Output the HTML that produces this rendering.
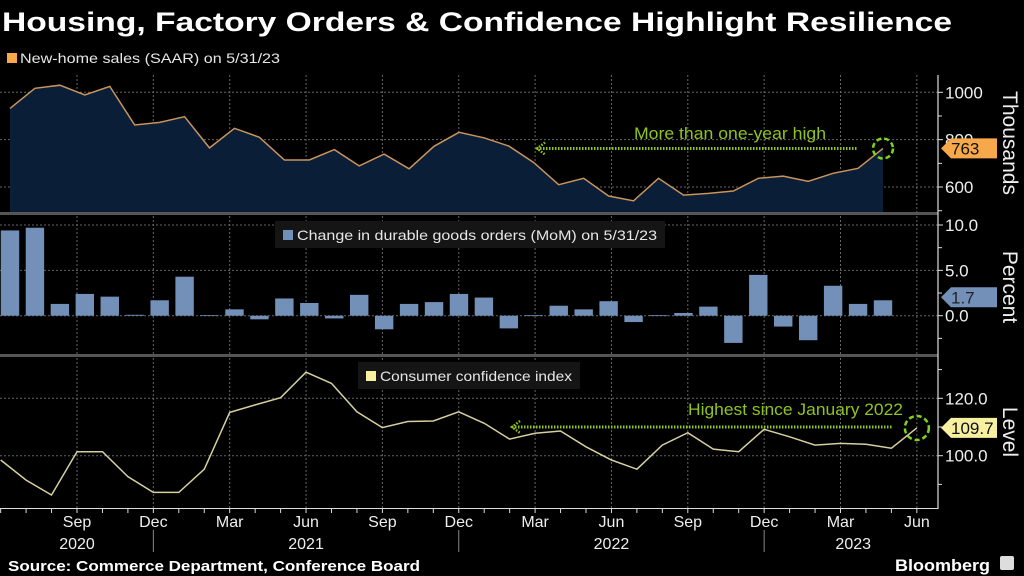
<!DOCTYPE html>
<html><head><meta charset="utf-8"><style>
html,body{margin:0;padding:0;background:#000;width:1024px;height:576px;overflow:hidden}
svg{display:block;font-family:"Liberation Sans","DejaVu Sans",sans-serif}
</style></head><body>
<svg id="c" width="1024" height="576" viewBox="0 0 1024 576">
<rect width="1024" height="576" fill="#000"/>
<text x="2" y="31" fill="#fff" font-size="27" font-weight="bold" textLength="950" lengthAdjust="spacingAndGlyphs">Housing, Factory Orders &amp; Confidence Highlight Resilience</text>
<rect x="7" y="53" width="10" height="10" fill="#f7a84a"/>
<text x="20" y="63" fill="#e6e6e6" font-size="14" textLength="260" lengthAdjust="spacingAndGlyphs">New-home sales (SAAR) on 5/31/23</text>
<g id="grid"></g>
<g id="marks"></g>
<g id="axes"></g>
<text x="8" y="571" fill="#fff" font-size="15" font-weight="bold" textLength="412" lengthAdjust="spacingAndGlyphs">Source: Commerce Department, Conference Board</text>
<text x="895" y="571" fill="#fff" font-size="17" font-weight="bold" textLength="95" lengthAdjust="spacingAndGlyphs">Bloomberg</text>
<rect x="1000" y="556" width="14" height="14" rx="2" fill="#ddd"/>
</svg>
<script>
const salesValues=[932,1017,1030,989,1025,862,873,897,765,848,810,714,714,758,689,739,677,772,831,808,773,703,610,637,562,542,637,566,573,583,637,646,624,658,679,763];
const durableValues=[9.4,9.7,1.3,2.4,2.1,0.1,1.7,4.3,0.05,0.7,-0.4,1.9,1.4,-0.3,2.3,-1.5,1.3,1.5,2.4,2.0,-1.4,0.05,1.1,0.7,1.6,-0.7,0.05,0.3,1.0,-3.0,4.5,-1.2,-2.7,3.3,1.3,1.7];
const cciValues=[98.5,91.5,86.3,101.4,101.4,92.7,87.2,87.2,95.3,115.1,117.7,120.2,129.1,125.2,115.3,109.8,111.9,112.1,115.3,111.3,105.8,107.8,108.6,103.1,98.5,95.3,103.7,108.0,102.3,101.4,109.2,106.6,103.7,104.3,104.0,102.6,109.7];
const monthLabels=["Sep","Dec","Mar","Jun","Sep","Dec","Mar","Jun","Sep","Dec","Mar","Jun"];
const yearLabels=["2020","2021","2022","2023"];
const salesTicks=[1000,800,600];
const durableTicks=[10.0,5.0,0.0];
const cciTicks=[120.0,100.0];

const NS="http://www.w3.org/2000/svg";
function mk(tag,attrs,parent,txt){const e=document.createElementNS(NS,tag);for(const k in attrs)e.setAttribute(k,attrs[k]);if(txt!==undefined)e.textContent=txt;parent.appendChild(e);return e;}
const G=document.getElementById('grid'),M=document.getElementById('marks'),A=document.getElementById('axes');
const xMonth=i=>0.65+25.45*i;
const xSales=k=>10+(873/(salesValues.length-1))*k;
const ySales=v=>92.3+(1000-v)*0.2368;
const yDur=v=>315.7-v*9.07;
const yCci=v=>455.7-(v-100)*2.87;
const PR=938;
const panels=[[75,213],[216,355],[358,508]];
for(let q=0;q<12;q++){const x=xMonth(3+3*q);
 for(const p of panels){const l=mk('line',{x1:x,x2:x,y1:p[0],y2:p[1],stroke:'#666','stroke-width':1,'stroke-dasharray':'2,2'},G);
 }}
function hgrid(y,name){const l=mk('line',{x1:0,x2:PR,y1:y,y2:y,stroke:'#666','stroke-width':1,'stroke-dasharray':'2,2'},G);
 }
function tickLabel(y,t,name){const tk=mk('line',{x1:PR,x2:PR+5,y1:y,y2:y,stroke:'#ddd'},A);
 
 const e=mk('text',{x:945,y:y+6,fill:'#eee','font-size':17},A,t);
 }
salesTicks.forEach(v=>{hgrid(ySales(v),'sales-gridline');tickLabel(ySales(v),String(v),'sales-tick-label');});
durableTicks.forEach(v=>{hgrid(yDur(v),'durable-gridline');tickLabel(yDur(v),v.toFixed(1),'durable-tick-label');});
cciTicks.forEach(v=>{hgrid(yCci(v),'cci-gridline');tickLabel(yCci(v),v.toFixed(1),'cci-tick-label');});
[ySales(900),ySales(700),ySales(500)].forEach(y=>mk('line',{x1:PR,x2:PR+4,y1:y,y2:y,stroke:'#ddd'},A));
[yDur(7.5),yDur(2.5),yDur(-2.5)].forEach(y=>mk('line',{x1:PR,x2:PR+4,y1:y,y2:y,stroke:'#ddd'},A));
[yCci(130),yCci(110),yCci(90)].forEach(y=>mk('line',{x1:PR,x2:PR+4,y1:y,y2:y,stroke:'#ddd'},A));

let pts=salesValues.map((v,k)=>xSales(k).toFixed(1)+','+ySales(v).toFixed(1));
const area=mk('polygon',{points:xSales(0)+',213 '+pts.join(' ')+' '+xSales(salesValues.length-1)+',213',fill:'#0b1e38'},M);

const sl=mk('polyline',{points:pts.join(' '),fill:'none',stroke:'#c8955a','stroke-width':1.5},M);


durableValues.forEach((v,k)=>{const x=xSales(k)-9.2;const y0=yDur(0),y1=yDur(v);
 const b=mk('rect',{x:x,y:Math.min(y0,y1),width:18.4,height:Math.max(0.8,Math.abs(y1-y0)),fill:'#7391b8'},M);
 });

const cl=mk('polyline',{points:cciValues.map((v,i)=>xMonth(i).toFixed(1)+','+yCci(v).toFixed(1)).join(' '),fill:'none',stroke:'#d6cfa0','stroke-width':1.5},M);


[[212,'panel-separator-1'],[354,'panel-separator-2']].forEach(([y,n])=>{const r=mk('rect',{x:0,y:y,width:PR,height:3,fill:'#555'},A);
 });
const ax=mk('line',{x1:PR,x2:PR,y1:75,y2:509,stroke:'#ddd','stroke-width':1.2},A);


function legBox(x,y,w,col,txt,name){const r=mk('rect',{x:x,y:y,width:w,height:27,fill:'#151515'},A);
 
 const s=mk('rect',{x:x+8,y:y+9,width:10,height:10,fill:col},A);
 
 const t=mk('text',{x:x+22,y:y+19,fill:'#e6e6e6','font-size':14,textLength:w-30,lengthAdjust:'spacingAndGlyphs'},A,txt);
 }
legBox(275,221,390,'#7391b8','Change in durable goods orders (MoM) on 5/31/23','durable-legend');
legBox(358,362,222,'#f6f0a0','Consumer confidence index','cci-legend');

function flag(y,w,col,tc,txt,name){const x=941;
 const p=mk('path',{d:`M${x} ${y} L${x+10} ${y-10} L${x+56} ${y-10} L${x+56} ${y+10} L${x+10} ${y+10} Z`,fill:col},A);
 
 const t=mk('text',{x:x+10,y:y+6,fill:tc,'font-size':17},A,txt);
 }
flag(ySales(salesValues[salesValues.length-1]),56,'#f7a84a','#111',String(salesValues[salesValues.length-1]),'sales-last');
flag(yDur(durableValues[durableValues.length-1])-3,56,'#7391b8','#222',durableValues[durableValues.length-1].toFixed(1),'durable-last');
flag(yCci(cciValues[cciValues.length-1]),56,'#f6f0a0','#111',cciValues[cciValues.length-1].toFixed(1),'cci-last');

function annot(x1,x2,y,cx,cy,r,tx,ty,tw,txt,name){
 const l=mk('line',{x1:x1,x2:x2,y1:y,y2:y,stroke:'#8fc31f','stroke-width':3,'stroke-dasharray':'1.5,1.5'},A);
 
 mk('path',{d:`M${x1+8} ${y-6} L${x1} ${y} L${x1+8} ${y+6}`,fill:'none',stroke:'#8fc31f','stroke-width':2.5,'stroke-dasharray':'1.5,1.5'},A);
 const c=mk('circle',{cx:cx,cy:cy,r:r,fill:'none',stroke:'#7fd320','stroke-width':2.5,'stroke-dasharray':'5,3'},A);
 
 const t=mk('text',{x:tx,y:ty,fill:'#8fc31f','font-size':17,textLength:tw,lengthAdjust:'spacingAndGlyphs'},A,txt);
 }
annot(537,858,148.5,xSales(salesValues.length-1),148.5,10,634,139,192,'More than one-year high','sales-annotation');
annot(512,892,427,xMonth(cciValues.length-1),428,12,688,415,215,'Highest since January 2022','cci-annotation');

[['Thousands',143],['Percent',287],['Level',432]].forEach(([t,y])=>{const e=mk('text',{x:1003,y:y,fill:'#eee','font-size':21,'text-anchor':'middle',transform:`rotate(90 1003 ${y})`},A,t);
 });

const xl=mk('line',{x1:0,x2:PR,y1:508.5,y2:508.5,stroke:'#ddd'},A);

for(let i=0;i<=36;i++){const x=xMonth(i);mk('line',{x1:x,x2:x,y1:508,y2:513,stroke:'#ddd'},A);}
monthLabels.forEach((m,q)=>{const t=mk('text',{x:xMonth(3+3*q),y:527,fill:'#eee','font-size':16,'text-anchor':'middle'},A,m);
 });
const yearIdx=[3,12,24,33.5];
yearLabels.forEach((y,i)=>{const t=mk('text',{x:xMonth(yearIdx[i]),y:549,fill:'#eee','font-size':16,'text-anchor':'middle'},A,y);
 });
[6,18,30].forEach(i=>{const x=xMonth(i);mk('line',{x1:x,x2:x,y1:530,y2:552,stroke:'#888'},A);});
</script>
</body></html>
